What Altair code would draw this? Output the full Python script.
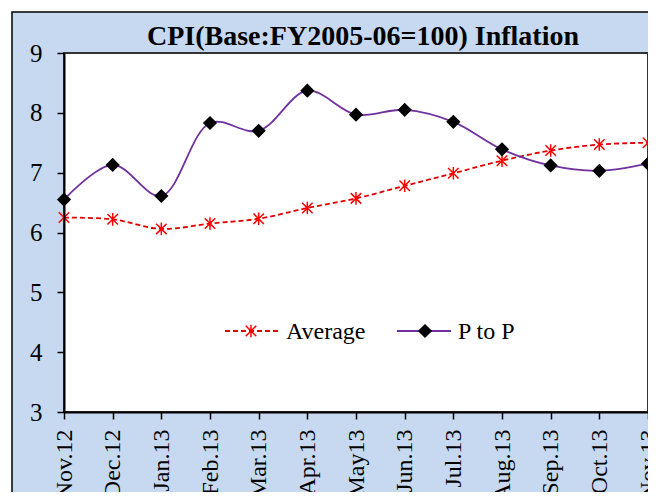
import altair as alt
import pandas as pd

months = ["Nov.12", "Dec.12", "Jan.13", "Feb.13", "Mar.13", "Apr.13", "May13",
          "Jun.13", "Jul.13", "Aug.13", "Sep.13", "Oct.13", "Nov.13"]
average = [6.25, 6.22, 6.06, 6.15, 6.23, 6.41, 6.57, 6.78, 6.99, 7.20, 7.37, 7.47, 7.50]
p_to_p = [6.55, 7.13, 6.61, 7.83, 7.70, 8.37, 7.97, 8.05, 7.85, 7.39, 7.12, 7.03, 7.15]
y_ticks = [3, 4, 5, 6, 7, 8, 9]
title_text = "CPI(Base:FY2005-06=100) Inflation"

FONT = "Liberation Serif"
W, H = 584, 359

df = pd.DataFrame({"month": months, "Average": average, "P to P": p_to_p})
one = pd.DataFrame({"a": [0]})

STAR = "M-1,-1L1,1M-1,1L1,-1M0,-1.2L0,1.2"

x_enc = alt.X("month:N", sort=months, title=None,
              scale=alt.Scale(type="point", padding=0),
              axis=alt.Axis(labelAngle=-90, labelPadding=10, zindex=1))
y_scale = alt.Scale(domain=[3, 9], nice=False, zero=False)

def yenc(field):
    return alt.Y(f"{field}:Q", title=None, scale=y_scale,
                 axis=alt.Axis(values=y_ticks, labelPadding=15, labelFontSize=25, zindex=1))

bg = alt.Chart(one).mark_rect(fill="#c6d9f1", stroke="black", strokeWidth=1.5).encode(
    x=alt.value(-52), x2=alt.value(700), y=alt.value(-41), y2=alt.value(600))
plot_bg = alt.Chart(one).mark_rect(fill="white", stroke="#333333", strokeWidth=2).encode(
    x=alt.value(0), x2=alt.value(W), y=alt.value(0), y2=alt.value(H))
title = alt.Chart(one).mark_text(text=title_text, align="center", baseline="alphabetic",
                                 font=FONT, fontSize=28, fontWeight="bold", color="black").encode(
    x=alt.value(299), y=alt.value(-8))

base = alt.Chart(df)
avg_line = base.mark_line(color="#e00000", strokeWidth=1.8, strokeDash=[5, 3],
                          interpolate="catmull-rom").encode(x=x_enc, y=yenc("Average"))
avg_pts = base.mark_point(shape=STAR, size=110, filled=False, stroke="#ff0000",
                          strokeWidth=1.5, opacity=1).encode(x=x_enc, y=yenc("Average"))
p_line = base.mark_line(color="#7030a0", strokeWidth=1.8,
                        interpolate="catmull-rom").encode(x=x_enc, y=yenc("P to P"))
p_pts = base.mark_point(shape="diamond", size=130, filled=True, fill="black",
                        stroke="black", opacity=1).encode(x=x_enc, y=yenc("P to P"))

LY = 278
leg_avg_line = alt.Chart(one).mark_rule(color="#e00000", strokeWidth=1.8, strokeDash=[5, 3]).encode(
    x=alt.value(161), x2=alt.value(214), y=alt.value(LY))
leg_avg_pt = alt.Chart(one).mark_point(shape=STAR, size=110, filled=False, stroke="#ff0000",
                                       strokeWidth=1.5, opacity=1).encode(
    x=alt.value(187), y=alt.value(LY))
leg_avg_txt = alt.Chart(one).mark_text(text="Average", align="left", baseline="middle",
                                       font=FONT, fontSize=24, color="black").encode(
    x=alt.value(222), y=alt.value(LY + 1))
leg_p_line = alt.Chart(one).mark_rule(color="#7030a0", strokeWidth=1.8).encode(
    x=alt.value(333), x2=alt.value(387), y=alt.value(LY))
leg_p_pt = alt.Chart(one).mark_point(shape="diamond", size=130, filled=True, fill="black",
                                     stroke="black", opacity=1).encode(
    x=alt.value(361), y=alt.value(LY))
leg_p_txt = alt.Chart(one).mark_text(text="P to P", align="left", baseline="middle",
                                     font=FONT, fontSize=24, color="black").encode(
    x=alt.value(394), y=alt.value(LY + 1))

chart = alt.layer(
    bg, plot_bg, title, avg_line, avg_pts, p_line, p_pts,
    leg_avg_line, leg_avg_pt, leg_avg_txt, leg_p_line, leg_p_pt, leg_p_txt
).properties(
    width=W, height=H,
    autosize=alt.AutoSizeParams(type="none"),
    padding={"left": 56, "top": 45, "right": 0, "bottom": 80},
    background="white",
).configure_view(
    stroke=None, fill=None
).configure_axis(
    labelFont=FONT, labelFontSize=24, labelColor="black",
    domainColor="black", domainWidth=2, tickColor="black", tickWidth=1.5,
    tickSize=7, grid=False,
)

chart.save("out.html", embed_options={"renderer": "svg", "actions": False})
